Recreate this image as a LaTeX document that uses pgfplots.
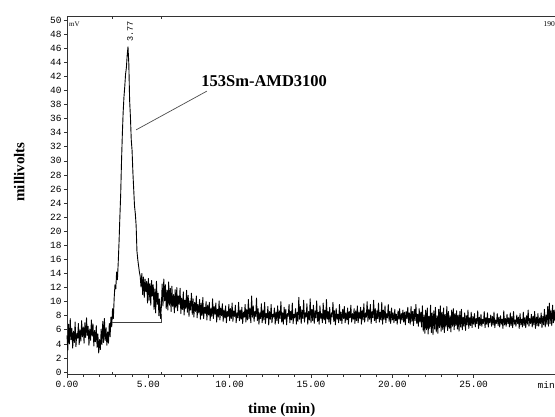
\documentclass[border=0pt]{standalone}
\usepackage{fontspec}
\setmainfont{Liberation Serif}
\setmonofont{Liberation Mono}
\usepackage{pgfplots}
\pgfplotsset{compat=1.18}
\usepackage{pgfplotstable}

\pgfplotstableread{
t y
0.00 5.2
0.05 3.1
0.10 6.8
0.15 4.0
0.20 7.6
0.25 4.6
0.30 6.2
0.35 3.4
0.40 5.8
0.45 4.2
0.50 7.1
0.55 3.6
0.60 5.5
0.65 4.8
0.70 6.9
0.75 3.9
0.80 6.0
0.85 4.4
0.90 7.3
0.95 5.0
1.00 6.4
1.05 4.1
1.10 7.0
1.15 4.9
1.20 7.7
1.25 5.2
1.30 6.5
1.35 3.8
1.40 6.1
1.45 4.5
1.50 7.4
1.55 5.1
1.60 6.8
1.65 3.7
1.70 5.9
1.75 4.3
1.80 6.6
1.85 3.5
1.90 5.4
1.95 2.7
2.00 4.6
2.05 3.2
2.10 6.1
2.15 3.9
2.20 7.2
2.25 4.2
2.30 7.6
2.35 4.5
2.40 6.3
2.45 3.8
2.50 5.7
2.55 4.1
2.60 6.9
2.65 5.0
2.70 7.8
2.75 6.4
2.80 9.0
2.85 7.6
2.90 10.5
2.95 12.4
3.00 11.8
3.05 14.2
3.10 13.1
3.15 15.6
3.20 18.5
3.25 22.0
3.30 25.2
3.35 29.8
3.40 33.6
3.45 36.8
3.50 39.0
3.55 40.5
3.60 42.3
3.65 43.2
3.70 45.0
3.75 46.2
3.80 43.8
3.85 38.6
3.90 36.2
3.95 33.0
4.00 31.5
4.05 28.4
4.10 26.0
4.15 23.6
4.20 22.5
4.25 20.8
4.30 17.2
4.35 16.0
4.40 15.1
4.45 14.2
4.50 13.6
4.55 12.1
4.60 14.0
4.65 11.0
4.70 13.5
4.75 10.6
4.80 13.2
4.85 11.4
4.90 12.9
4.95 9.8
5.00 13.3
5.05 10.2
5.10 12.6
5.15 9.5
5.20 13.0
5.25 10.8
5.30 12.4
5.35 8.9
5.40 11.8
5.45 8.4
5.50 12.9
5.55 9.6
5.60 11.2
5.65 8.0
5.70 10.4
5.75 7.6
5.80 9.2
5.85 12.5
5.90 9.4
5.95 13.2
6.00 10.1
6.05 12.4
6.10 9.0
6.15 11.6
6.20 8.8
6.25 12.8
6.30 9.5
6.35 11.9
6.40 8.6
6.45 12.2
6.50 9.3
6.55 11.0
6.60 8.4
6.65 11.7
6.70 9.1
6.75 12.0
6.80 8.7
6.85 10.8
6.90 9.6
6.95 11.9
7.00 8.3
7.05 10.5
7.10 8.9
7.15 11.4
7.20 8.1
7.25 10.2
7.30 9.0
7.35 11.6
7.40 8.5
7.45 10.9
7.50 7.9
7.55 10.1
7.60 8.8
7.65 11.2
7.70 8.2
7.75 10.4
7.80 7.8
7.85 9.9
7.90 8.6
7.95 10.8
8.00 7.7
8.05 9.6
8.10 8.4
8.15 10.3
8.20 7.5
8.25 9.8
8.30 8.0
8.35 10.6
8.40 7.6
8.45 9.2
8.50 8.3
8.55 10.0
8.60 7.4
8.65 9.5
8.70 8.1
8.75 9.9
8.80 7.3
8.85 9.0
8.90 7.9
8.95 10.4
9.00 7.6
9.05 9.3
9.10 8.2
9.15 9.8
9.20 7.1
9.25 8.9
9.30 7.8
9.35 10.1
9.40 7.4
9.45 9.1
9.50 8.0
9.55 9.7
9.60 7.2
9.65 8.8
9.70 7.7
9.75 9.4
9.80 7.0
9.85 8.6
9.90 7.9
9.95 9.6
10.00 7.3
10.05 9.0
10.10 7.6
10.15 9.8
10.20 7.2
10.25 8.7
10.30 7.9
10.35 9.5
10.40 7.0
10.45 8.4
10.50 7.7
10.55 9.9
10.60 7.3
10.65 8.8
10.70 7.5
10.75 9.2
10.80 6.9
10.85 8.5
10.90 7.8
10.95 9.6
11.00 7.1
11.05 8.9
11.10 7.4
11.15 10.3
11.20 7.6
11.25 9.1
11.30 7.0
11.35 10.8
11.40 7.8
11.45 9.4
11.50 7.2
11.55 8.6
11.60 7.9
11.65 10.5
11.70 7.3
11.75 9.0
11.80 6.8
11.85 8.4
11.90 7.6
11.95 9.7
12.00 7.0
12.05 8.8
12.10 7.4
12.15 9.9
12.20 6.9
12.25 8.3
12.30 7.7
12.35 9.3
12.40 6.7
12.45 8.6
12.50 7.5
12.55 9.6
12.60 7.0
12.65 8.2
12.70 7.8
12.75 9.1
12.80 6.8
12.85 8.5
12.90 7.3
12.95 9.4
13.00 6.9
13.05 8.7
13.10 7.6
13.15 10.0
13.20 7.1
13.25 8.4
13.30 6.8
13.35 9.2
13.40 7.5
13.45 8.9
13.50 6.7
13.55 8.3
13.60 7.9
13.65 9.6
13.70 7.0
13.75 8.6
13.80 7.4
13.85 9.8
13.90 6.9
13.95 8.2
14.00 7.7
14.05 9.0
14.10 6.8
14.15 8.5
14.20 7.2
14.25 10.6
14.30 7.5
14.35 9.3
14.40 6.9
14.45 8.8
14.50 7.6
14.55 10.2
14.60 7.1
14.65 8.4
14.70 7.8
14.75 9.7
14.80 6.8
14.85 8.6
14.90 7.4
14.95 10.4
15.00 7.0
15.05 8.9
15.10 7.3
15.15 9.5
15.20 6.9
15.25 8.7
15.30 7.7
15.35 10.1
15.40 7.2
15.45 8.5
15.50 6.8
15.55 9.4
15.60 7.6
15.65 8.3
15.70 7.0
15.75 9.8
15.80 7.4
15.85 8.8
15.90 6.9
15.95 10.3
16.00 7.5
16.05 8.6
16.10 7.1
16.15 9.2
16.20 6.8
16.25 8.4
16.30 7.8
16.35 9.9
16.40 7.2
16.45 8.7
16.50 6.7
16.55 9.0
16.60 7.5
16.65 8.2
16.70 7.0
16.75 9.6
16.80 7.3
16.85 8.5
16.90 6.9
16.95 8.9
17.00 7.6
17.05 9.3
17.10 7.0
17.15 8.4
17.20 7.4
17.25 9.1
17.30 6.8
17.35 8.6
17.40 7.7
17.45 9.5
17.50 7.1
17.55 8.3
17.60 7.5
17.65 9.0
17.70 6.9
17.75 8.7
17.80 7.3
17.85 9.4
17.90 7.0
17.95 8.5
18.00 7.6
18.05 9.2
18.10 6.8
18.15 8.8
18.20 7.4
18.25 9.7
18.30 7.1
18.35 8.4
18.40 7.8
18.45 10.0
18.50 7.2
18.55 8.9
18.60 7.5
18.65 9.6
18.70 6.9
18.75 8.6
18.80 7.7
18.85 10.2
18.90 7.3
18.95 9.0
19.00 7.0
19.05 8.7
19.10 7.6
19.15 9.8
19.20 7.1
19.25 8.5
19.30 7.4
19.35 9.9
19.40 6.8
19.45 8.8
19.50 7.5
19.55 9.4
19.60 7.0
19.65 8.3
19.70 7.7
19.75 9.6
19.80 7.2
19.85 8.6
19.90 6.9
19.95 9.1
20.00 7.4
20.05 8.4
20.10 7.0
20.15 8.9
20.20 7.3
20.25 8.2
20.30 6.8
20.35 8.7
20.40 7.5
20.45 9.0
20.50 6.9
20.55 8.3
20.60 7.4
20.65 8.8
20.70 7.1
20.75 8.5
20.80 6.7
20.85 8.6
20.90 7.6
20.95 9.2
21.00 7.0
21.05 8.4
21.10 6.8
21.15 9.3
21.20 7.2
21.25 8.6
21.30 6.6
21.35 8.9
21.40 7.3
21.45 9.6
21.50 6.9
21.55 8.2
21.60 6.5
21.65 9.0
21.70 7.1
21.75 8.5
21.80 6.4
21.85 9.4
21.90 5.8
21.95 8.1
22.00 5.5
22.05 8.8
22.10 6.0
22.15 9.1
22.20 5.4
22.25 7.9
22.30 6.2
22.35 9.5
22.40 5.6
22.45 8.4
22.50 5.3
22.55 8.7
22.60 6.1
22.65 9.2
22.70 5.7
22.75 8.0
22.80 5.5
22.85 8.9
22.90 6.3
22.95 9.4
23.00 5.8
23.05 8.5
23.10 6.0
23.15 9.1
23.20 5.6
23.25 8.2
23.30 6.4
23.35 9.3
23.40 5.9
23.45 8.6
23.50 6.2
23.55 8.0
23.60 5.7
23.65 8.8
23.70 6.5
23.75 9.0
23.80 6.0
23.85 8.3
23.90 6.6
23.95 8.7
24.00 6.1
24.05 8.1
24.10 5.8
24.15 8.6
24.20 6.4
24.25 8.9
24.30 6.0
24.35 7.8
24.40 6.5
24.45 8.4
24.50 5.9
24.55 8.0
24.60 6.7
24.65 8.8
24.70 6.2
24.75 7.7
24.80 6.6
24.85 8.5
24.90 6.3
24.95 7.9
25.00 6.8
25.05 8.3
25.10 6.4
25.15 7.6
25.20 6.9
25.25 8.7
25.30 6.2
25.35 7.8
25.40 6.6
25.45 8.2
25.50 6.5
25.55 7.5
25.60 6.9
25.65 8.6
25.70 6.3
25.75 7.7
25.80 6.8
25.85 8.4
25.90 6.4
25.95 7.6
26.00 7.0
26.05 8.1
26.10 6.5
26.15 7.9
26.20 6.7
26.25 8.5
26.30 6.3
26.35 7.4
26.40 6.9
26.45 8.3
26.50 6.6
26.55 7.8
26.60 6.4
26.65 8.0
26.70 6.8
26.75 7.5
26.80 6.2
26.85 8.7
26.90 6.7
26.95 7.6
27.00 6.5
27.05 8.2
27.10 6.9
27.15 7.7
27.20 6.4
27.25 8.4
27.30 6.6
27.35 7.9
27.40 6.3
27.45 8.6
27.50 6.8
27.55 7.4
27.60 6.5
27.65 8.1
27.70 6.9
27.75 7.8
27.80 6.2
27.85 8.3
27.90 6.7
27.95 7.5
28.00 6.4
28.05 8.5
28.10 6.6
28.15 7.7
28.20 6.3
28.25 8.0
28.30 6.8
28.35 8.8
28.40 6.5
28.45 7.6
28.50 6.9
28.55 8.2
28.60 6.4
28.65 7.9
28.70 6.7
28.75 8.6
28.80 6.2
28.85 7.8
28.90 6.6
28.95 8.3
29.00 6.5
29.05 7.7
29.10 6.9
29.15 8.4
29.20 6.3
29.25 7.9
29.30 6.7
29.35 8.9
29.40 6.4
29.45 8.1
29.50 6.8
29.55 9.3
29.60 6.5
29.65 9.8
29.70 6.9
29.75 8.7
29.80 6.6
29.85 9.5
29.90 7.0
29.95 8.8
30.00 7.2
}\chrom

\begin{document}
\begin{tikzpicture}
\begin{axis}[
  at={(0pt,0pt)}, anchor=south west,
  scale only axis,
  width=488pt, height=358.5pt,
  xmin=0, xmax=30, ymin=-0.35, ymax=50.57,
  axis y line*=left,
  axis x line*=box,
  axis line style={line width=0.8pt, black!80},
  xtick={0,5,10,15,20,25},
  xticklabels={0.00,5.00,10.00,15.00,20.00,25.00},
  minor x tick num=4,
  xtick pos=bottom,
  ytick={0,2,...,50},
  tick align=outside,
  major tick length=3pt, minor tick length=2.5pt,
  tick style={black!80, line width=0.6pt},
  ticklabel style={font=\ttfamily\fontsize{9.5}{10}\selectfont},
  yticklabel style={xshift=1pt},
  /pgf/number format/assume math mode=true,
  extra x ticks={2.77,5.78},
  extra x tick labels={},
  extra x tick style={tick align=inside, xtick pos=both, major tick length=3pt},
  xlabel={time (min)},
  ylabel={millivolts},
  xlabel style={font=\bfseries\fontsize{15}{16}\selectfont, at={(axis description cs:0.44,-0.099)}, anchor=center},
  ylabel style={font=\bfseries\fontsize{15}{16}\selectfont, at={(axis description cs:-0.098,0.565)}, anchor=center, rotate=0},
  clip=false,
]
\addplot[black, line width=0.9pt, line join=round] table[x=t, y=y] {\chrom};
\addplot[black!75, line width=0.8pt] coordinates {(2.77,7.1) (5.78,7.1) (5.78,8.2)};
\draw[black!70, line width=0.7pt] (axis cs:4.25,34.4) -- (axis cs:8.6,39.9);
\node[anchor=west, inner sep=0pt, font=\bfseries\fontsize{16.5}{17}\selectfont] at (axis cs:8.25,41.3) {153Sm-AMD3100};
\node[anchor=west, inner sep=0pt, rotate=90, font=\ttfamily\fontsize{8.5}{9}\selectfont] at (axis cs:3.88,46.9) {3.77};
\node[anchor=north west, inner sep=0pt, font=\fontsize{7}{8}\selectfont] at (rel axis cs:0.004,0.985) {mV};
\node[anchor=north east, inner sep=0pt, font=\fontsize{7.5}{8}\selectfont] at (rel axis cs:1,0.985) {190};
\node[anchor=north east, inner sep=0pt, font=\ttfamily\fontsize{9.5}{10}\selectfont] at (rel axis cs:1,0) [yshift=-7pt] {min};
\end{axis}
\pgfresetboundingbox
\useasboundingbox (-67pt,-41.5pt) rectangle (488pt,374.5pt);
\end{tikzpicture}
\end{document}
